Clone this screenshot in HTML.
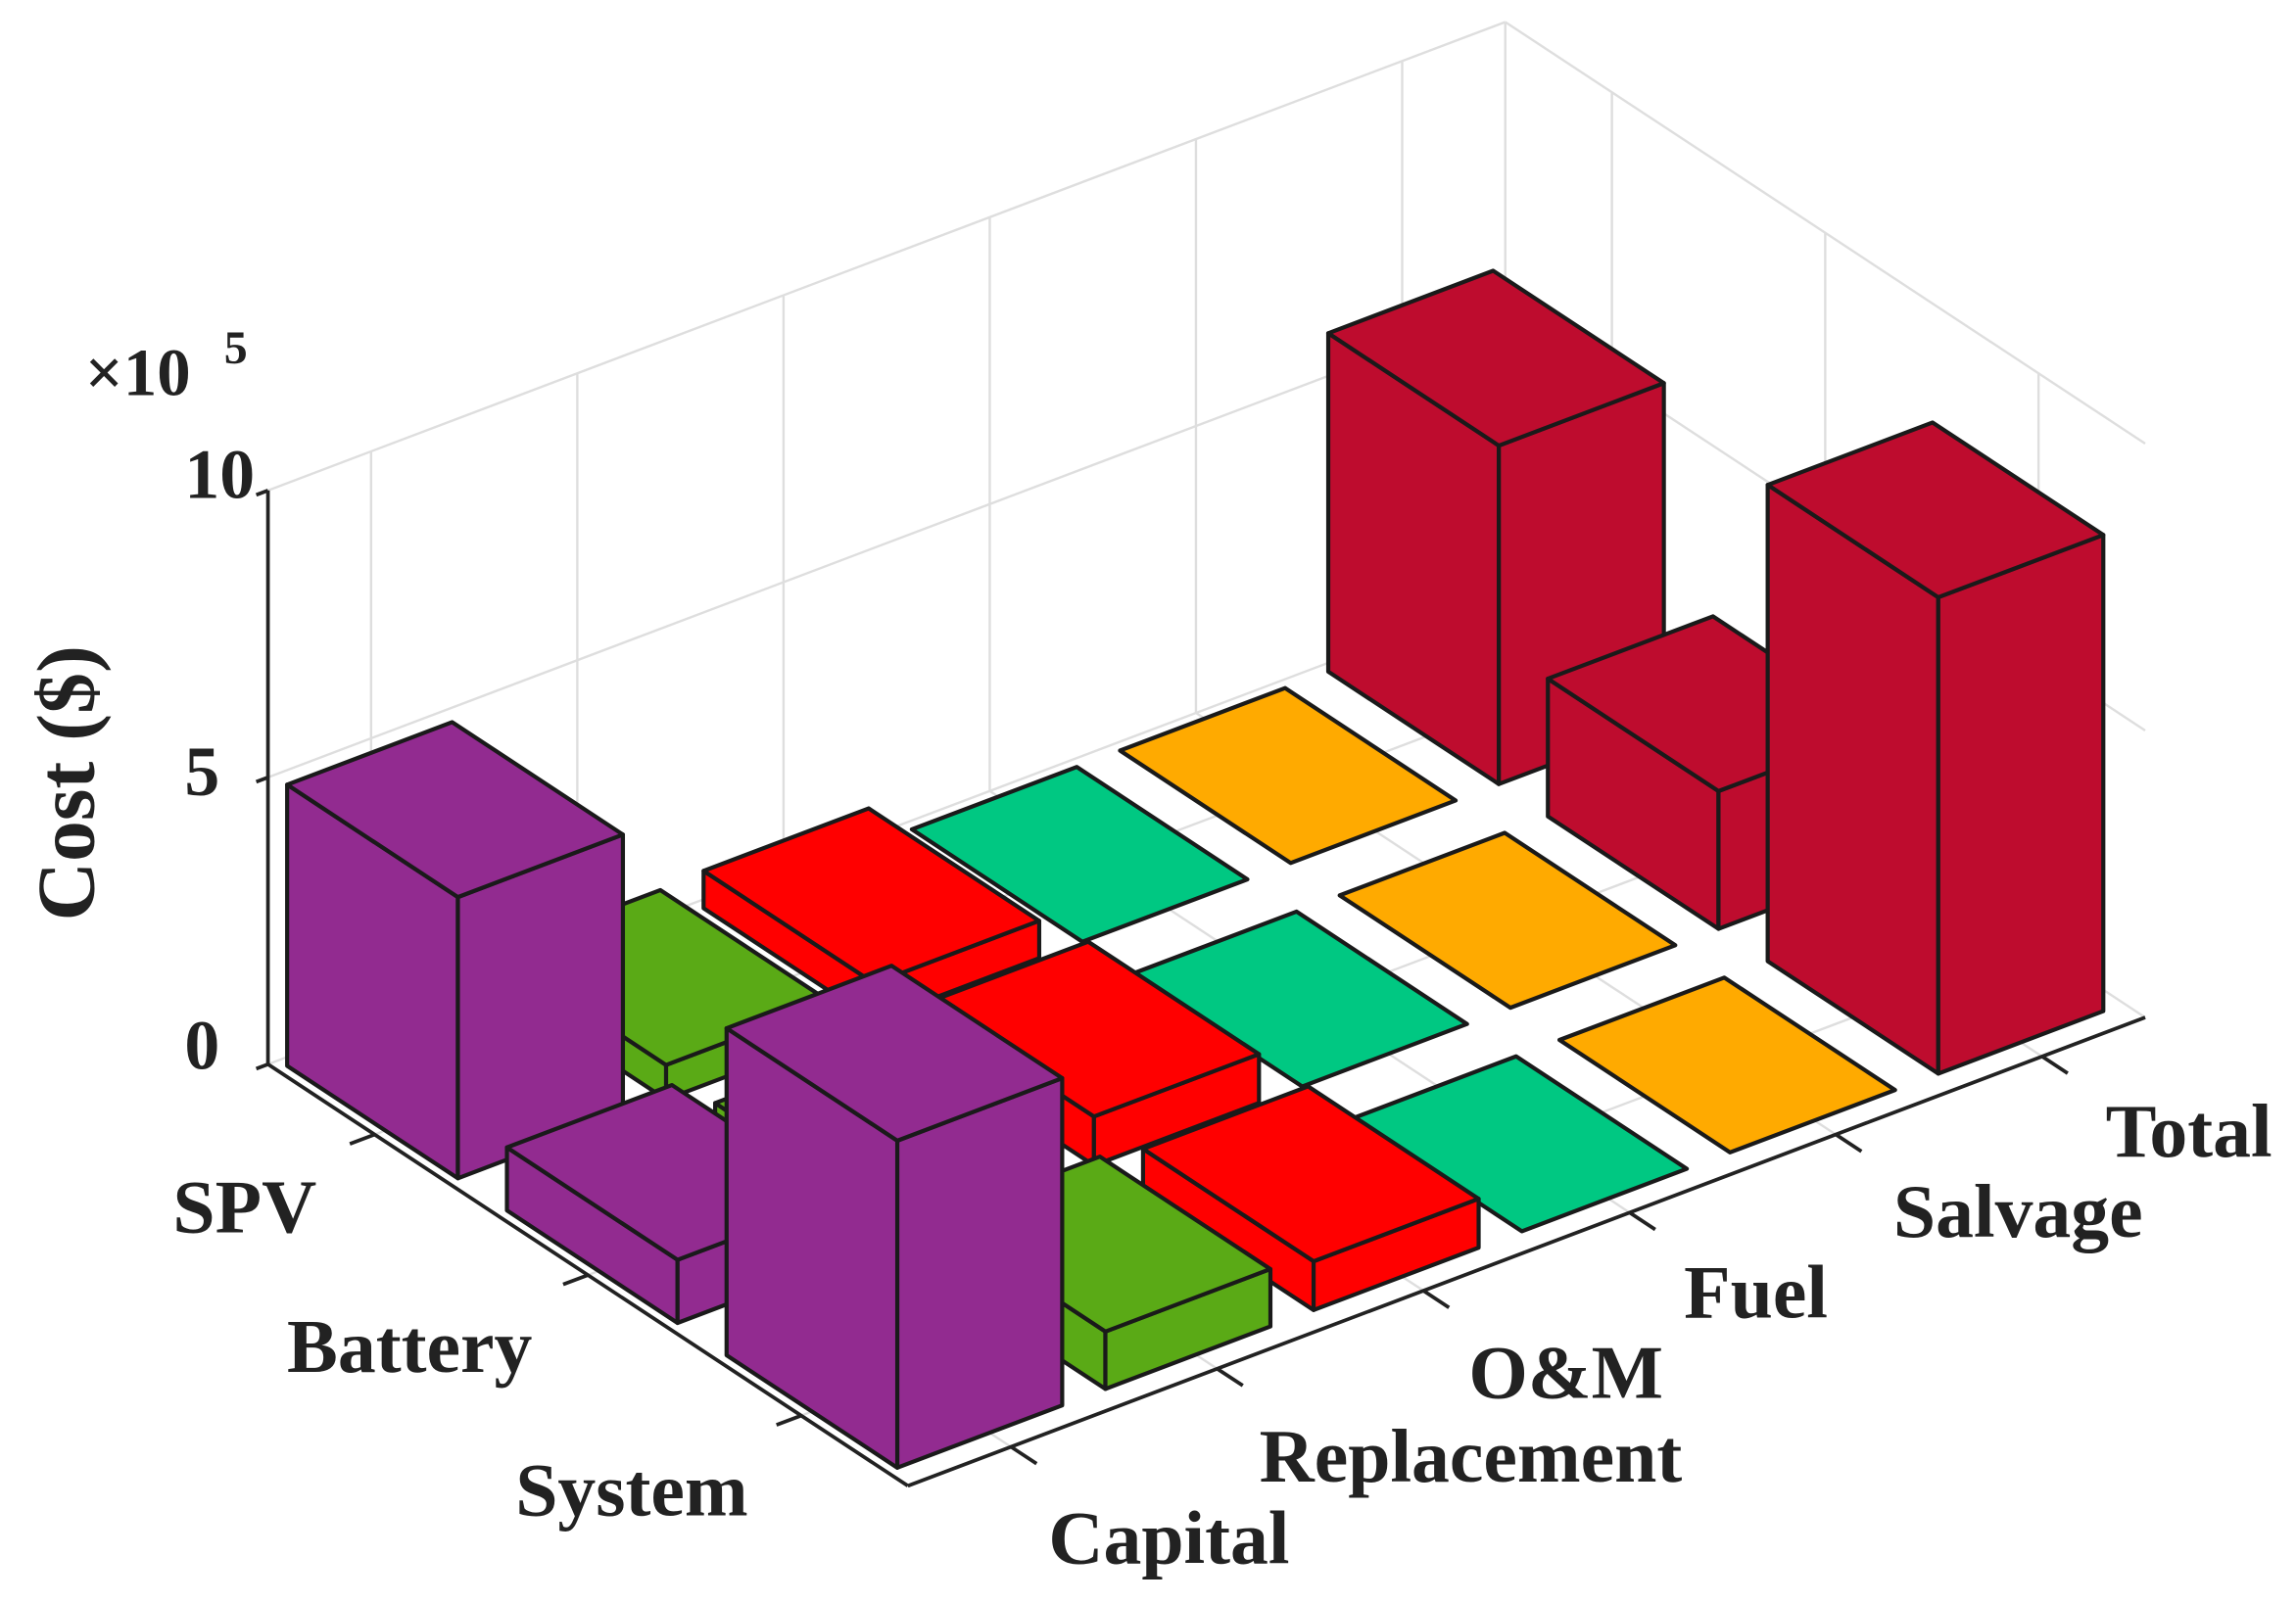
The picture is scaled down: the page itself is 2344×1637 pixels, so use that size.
<!DOCTYPE html>
<html><head><meta charset="utf-8">
<style>
html,body{margin:0;padding:0;background:#fff;}
svg{display:block;}
text{font-family:"Liberation Serif",serif;font-weight:bold;fill:#222;}
</style></head>
<body>
<svg id="s" width="2344" height="1637" viewBox="0 0 1568 1095" xmlns="http://www.w3.org/2000/svg">
<rect width="1568" height="1095" fill="#fff"/>
<g id="grid"></g>
<g id="axes"></g>
<g id="bars"></g>
<text x="58" y="270" font-size="46" font-weight="normal">×10</text>
<text x="153" y="248" font-size="32" font-weight="normal">5</text>
<text x="174" y="340" font-size="48" text-anchor="end">10</text>
<text x="150" y="543" font-size="48" text-anchor="end">5</text>
<text x="150" y="730" font-size="48" text-anchor="end">0</text>
<text transform="translate(64,535) rotate(-90)" font-size="56" text-anchor="middle">Cost ($)</text>
<text x="118" y="842" font-size="52">SPV</text>
<text x="196" y="937" font-size="52">Battery</text>
<text x="352" y="1035" font-size="52">System</text>
<text x="716" y="1068" font-size="52">Capital</text>
<text x="860" y="1012" font-size="52">Replacement</text>
<text x="1003" y="955" font-size="52">O&amp;M</text>
<text x="1150" y="900" font-size="52">Fuel</text>
<text x="1293" y="845" font-size="52">Salvage</text>
<text x="1438" y="790" font-size="52">Total</text>
</svg>
<script>
(function(){
var NS="http://www.w3.org/2000/svg";
function P(r,c,z){return [183+437*r+845*c, 727+288*r-320*c-39.2*z];}
function el(g,tag,attrs){var e=document.createElementNS(NS,tag);for(var k in attrs)e.setAttribute(k,attrs[k]);document.getElementById(g).appendChild(e);return e;}
function line(g,a,b,col,w){el(g,"line",{x1:a[0],y1:a[1],x2:b[0],y2:b[1],stroke:col,"stroke-width":w});}
var gc="#dedede";
for(var j=0;j<6;j++){var c=(j+.5)/6;line("grid",P(0,c,0),P(0,c,10),gc,1.6);}
[0,5,10].forEach(function(z){line("grid",P(0,0,z),P(0,1,z),gc,1.6);line("grid",P(0,1,z),P(1,1,z),gc,1.6);});
line("grid",P(0,1,0),P(0,1,10),gc,1.6);
for(var i=0;i<3;i++){var r=(i+.5)/3;line("grid",P(r,1,0),P(r,1,10),gc,1.6);line("grid",P(r,0,0),P(r,1,0),gc,1.6);}
for(var j=0;j<6;j++){var c=(j+.5)/6;line("grid",P(0,c,0),P(1,c,0),gc,1.6);}
var ac="#222";
line("axes",P(0,0,0),P(0,0,10),ac,2.5);
[0,5,10].forEach(function(z){var a=P(0,0,z);line("axes",a,[a[0]-8,a[1]+3],ac,2.5);});
line("axes",P(0,0,0),P(1,0,0),ac,2.5);
line("axes",P(1,0,0),P(1,1,0),ac,2.5);
for(var i=0;i<3;i++){var a=P((i+.5)/3,0,0),b=P((i+.5)/3,-0.02,0);line("axes",a,b,ac,2.5);}
for(var j=0;j<6;j++){var a=P(1,(j+.5)/6,0),b=P(1.04,(j+.5)/6,0);line("axes",a,b,ac,2.5);}
var cols=["#922B90","#5AAA16","#FF0000","#00C882","#FFAA00","#BE0C2E"];
var H=[[4.9,0.6,0.65,0,0,5.9],[1.1,0.5,0.85,0,0,2.4],[5.7,1.0,0.85,0,0,8.3]];
var list=[];
for(var i=0;i<3;i++)for(var j=0;j<6;j++){list.push({i:i,j:j,y:P((i+.5)/3,(j+.5)/6,0)[1]});}
list.sort(function(a,b){return a.y-b.y;});
function poly(pts,fill){el("bars","polygon",{points:pts.map(function(p){return p[0].toFixed(1)+","+p[1].toFixed(1);}).join(" "),fill:fill,stroke:"#1a1a1a","stroke-width":2.8,"stroke-linejoin":"round"});}
list.forEach(function(o){
 var dr=-0.02*(1-o.i/2)/1, dc=-0.008*(1-o.j/5);
 var r0=(o.i+.1)/3+dr,r1=(o.i+.9)/3+dr,c0=(o.j+.1)/6+dc,c1=(o.j+.9)/6+dc,h=H[o.i][o.j],f=cols[o.j];
 if(h>0){
  poly([P(r0,c0,0),P(r1,c0,0),P(r1,c0,h),P(r0,c0,h)],f);
  poly([P(r1,c0,0),P(r1,c1,0),P(r1,c1,h),P(r1,c0,h)],f);
 }
 poly([P(r0,c0,h),P(r1,c0,h),P(r1,c1,h),P(r0,c1,h)],f);
});
})();
</script>
</body></html>
